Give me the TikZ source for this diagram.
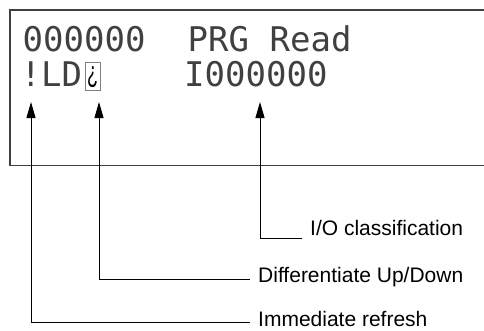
\documentclass[tikz,border=0pt]{standalone}
\usepackage{fontspec}
\usepackage{graphicx}
\usetikzlibrary{arrows.meta}

\newfontfamily\lcdfont{DejaVu Sans Mono}
\newfontfamily\labelfont{Liberation Sans}

\begin{document}
\begin{tikzpicture}[x=1pt, y=-1pt,
  lcd/.style={inner sep=0pt, anchor=base west, text=black!75, font=\lcdfont\fontsize{34}{36}\selectfont},
  callout/.style={inner sep=0pt, anchor=base west, font=\labelfont\fontsize{21}{24}\selectfont},
  leader/.style={draw, line width=0.9pt, -{Triangle[length=16pt,width=9pt]}}]
\useasboundingbox (0,0) rectangle (484,330);

% Display frame (open on the right)
\draw[line width=1.6pt, black!75] (484,10) -- (10,10) -- (10,165.5) -- (484,165.5);

% First display line
\node (addr) [lcd] at (22.5,51) {000000};
\node (mode) [lcd] at (187.5,51) {PRG};
\node (read) [lcd] at (269.5,51) {Read};

% Second display line
\node (instr) [lcd] at (20.5,86) {!LD};
\node (cursor) [draw=black!50, line width=0.8pt, minimum width=15pt, minimum height=28pt, inner sep=0pt,
  text height=18pt, text depth=6pt, font=\labelfont\fontsize{30}{32}\selectfont] at (92.5,76) {\scalebox{0.6}[1]{¿}};
\node (operand) [lcd] at (184,86) {I000000};

% Arrow tips under the display
\coordinate (bangTip) at (31,102);
\coordinate (cursorTip) at (99,102);
\coordinate (ioTip) at (260,102);

% Callouts
\node (io) [callout] at (310,235) {I/O classification};
\node (diff) [callout] at (258,282) {Differentiate Up/Down};
\node (imm) [callout] at (258,326) {Immediate refresh};

\draw[leader] ([xshift=-8pt,yshift=-3pt]io.base west) -| (ioTip);
\draw[leader] ([xshift=-8pt,yshift=3pt]diff.base west) -| (cursorTip);
\draw[leader] ([xshift=-8pt,yshift=4pt]imm.base west) -| (bangTip);
\end{tikzpicture}
\end{document}
